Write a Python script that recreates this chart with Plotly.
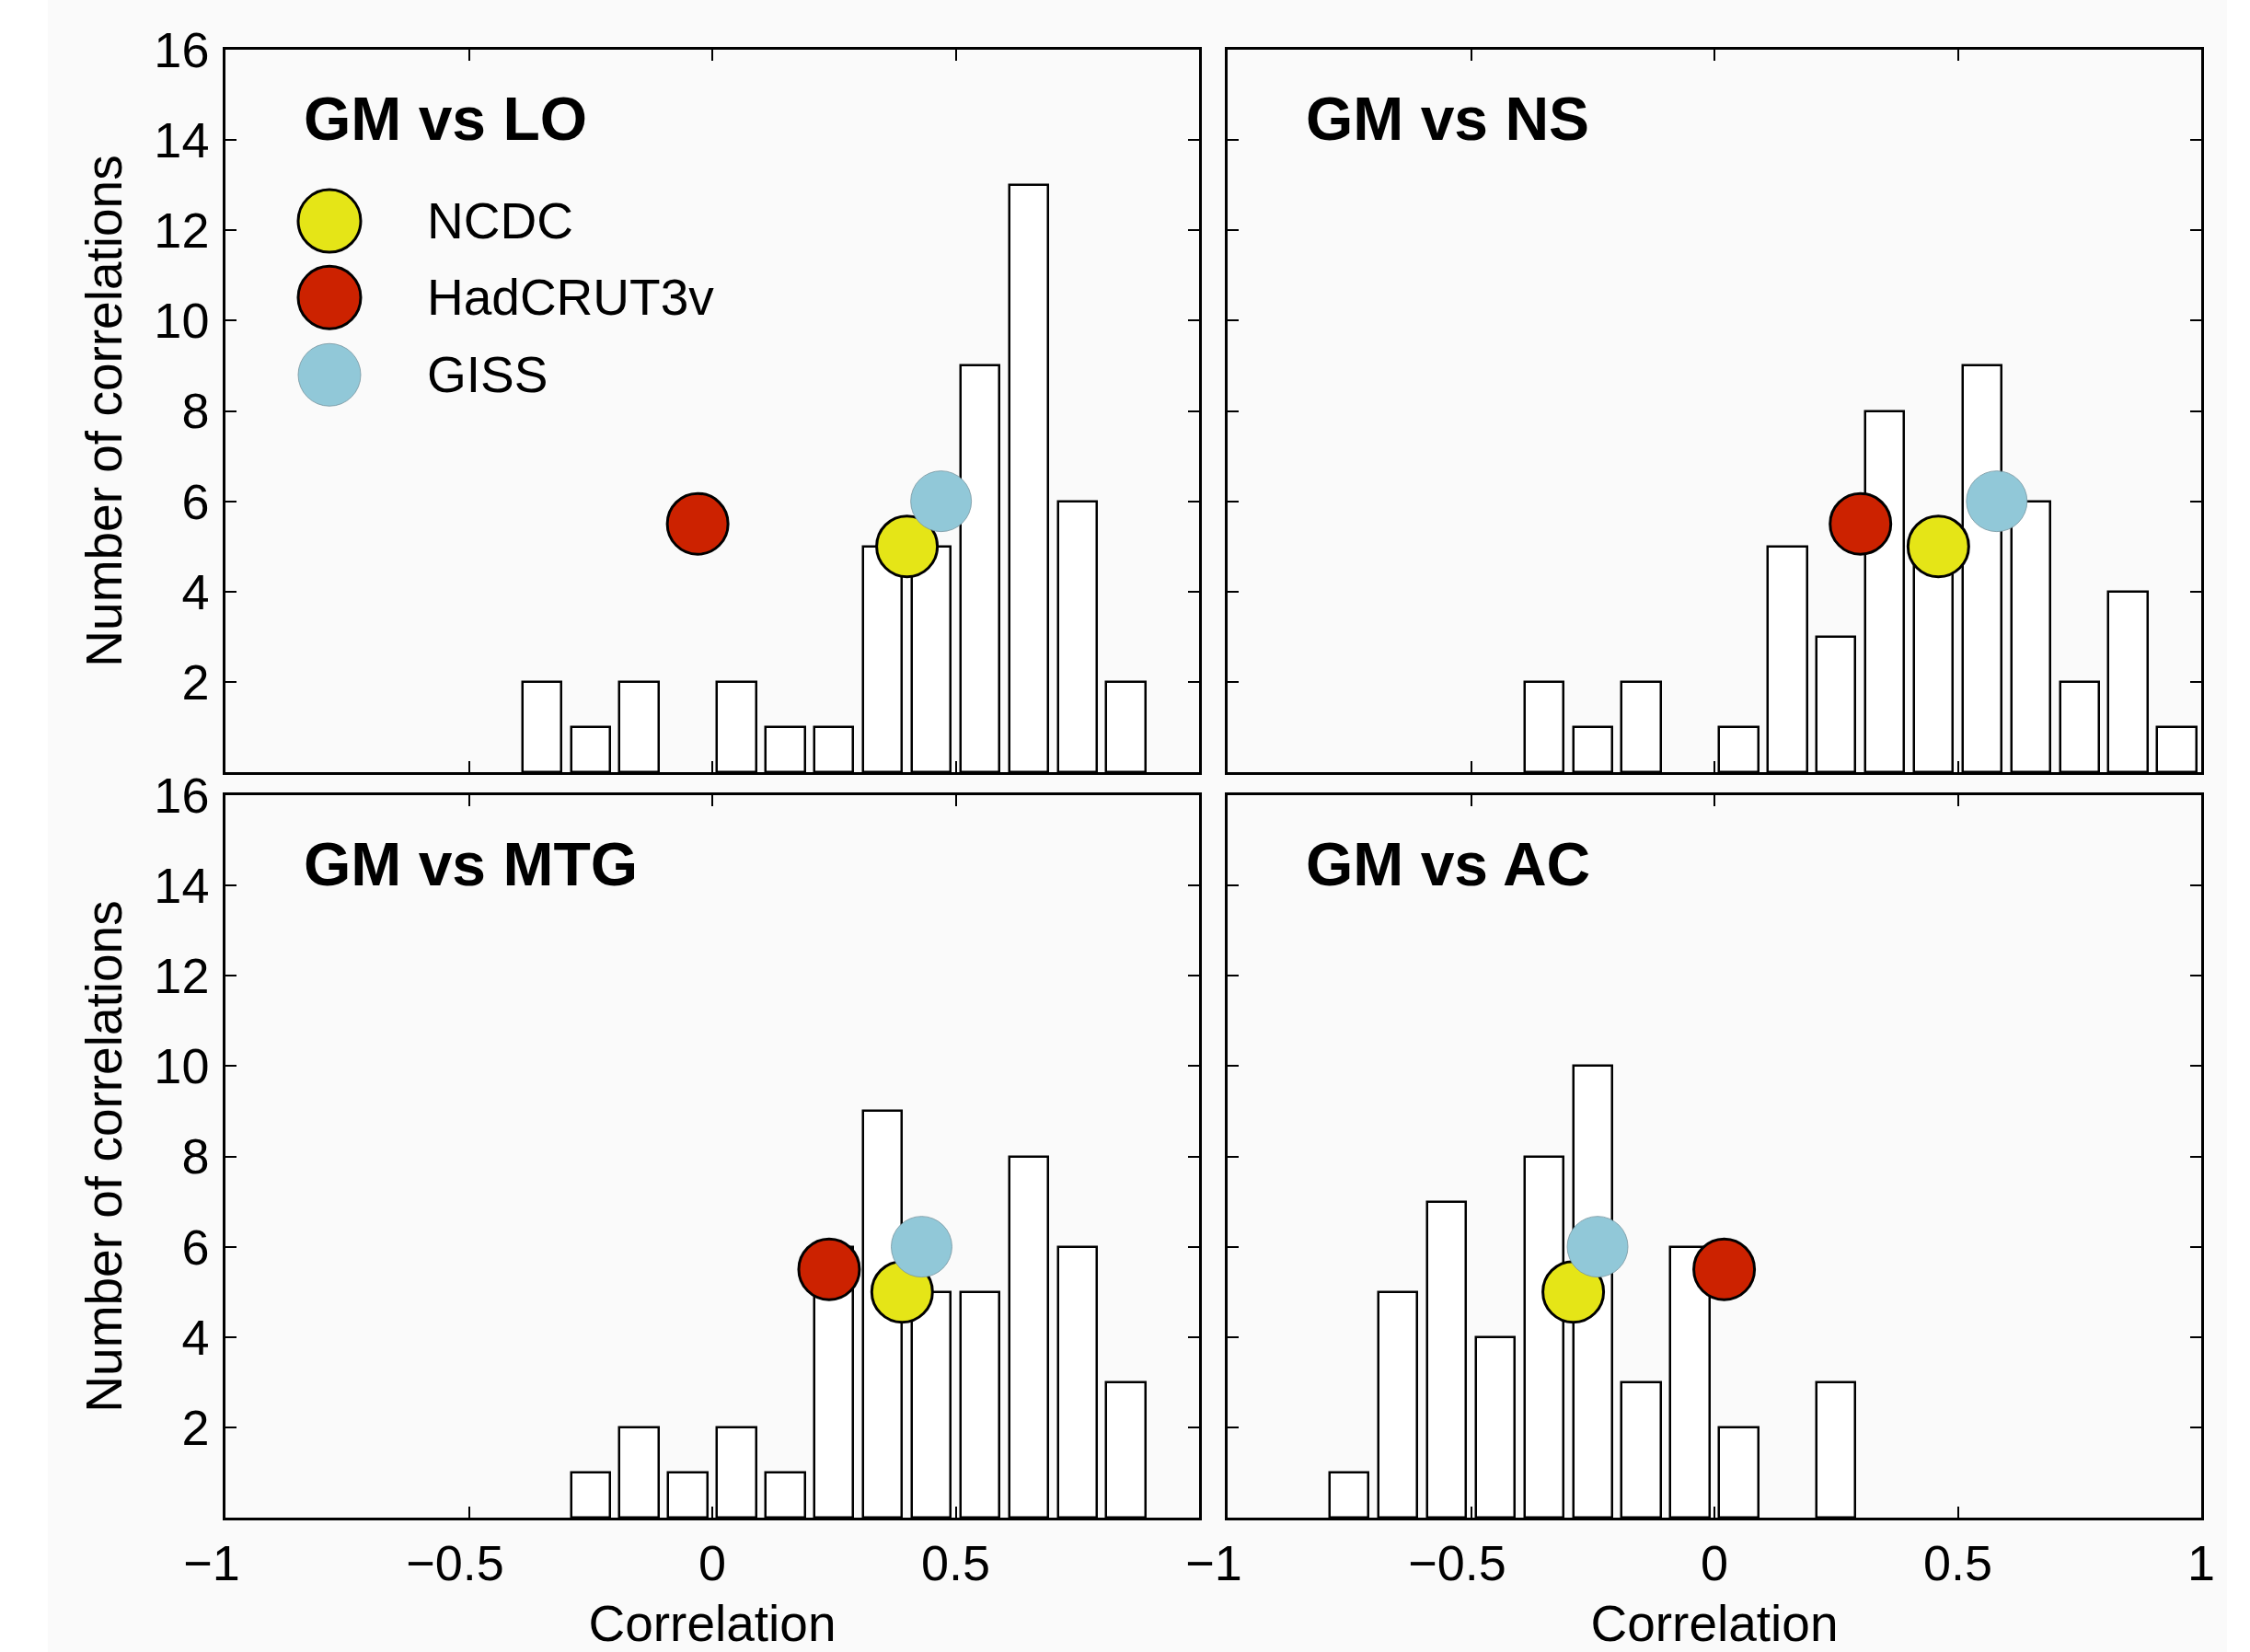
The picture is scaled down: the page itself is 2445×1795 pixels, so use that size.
import plotly.graph_objects as go

# ---- data ----
bin_centers = [-0.95, -0.85, -0.75, -0.65, -0.55, -0.45, -0.35, -0.25, -0.15, -0.05,
               0.05, 0.15, 0.25, 0.35, 0.45, 0.55, 0.65, 0.75, 0.85, 0.95]
counts_lo = [0, 0, 0, 0, 0, 0, 2, 1, 2, 0, 2, 1, 1, 5, 5, 9, 13, 6, 2, 0]
counts_ns = [0, 0, 0, 0, 0, 0, 2, 1, 2, 0, 1, 5, 3, 8, 5, 9, 6, 2, 4, 1]
counts_mtg = [0, 0, 0, 0, 0, 0, 0, 1, 2, 1, 2, 1, 6, 9, 5, 5, 8, 6, 3, 0]
counts_ac = [0, 0, 1, 5, 7, 4, 8, 10, 3, 6, 2, 0, 3, 0, 0, 0, 0, 0, 0, 0]

panel_titles = ["GM vs LO", "GM vs NS", "GM vs MTG", "GM vs AC"]
datasets = ["NCDC", "HadCRUT3v", "GISS"]
dataset_levels = [5, 5.5, 6]
obs_corr_lo = [0.40, -0.03, 0.47]
obs_corr_ns = [0.46, 0.30, 0.58]
obs_corr_mtg = [0.39, 0.24, 0.43]
obs_corr_ac = [-0.29, 0.02, -0.24]

x_tickvals = [-1, -0.5, 0, 0.5, 1]
x_ticktext = ["\u22121\u2007", "\u22120.5\u2007", "0", "0.5", "1"]
y_tickvals = [2, 4, 6, 8, 10, 12, 14, 16]
y_ticktext = ["2", "4", "6", "8", "10", "12", "14", "16"]

# ---- styles ----
colors = ["#E5E517", "#CC2200", "#91C8D8"]
outline = ["#000000", "#000000", "rgba(120,150,160,0.8)"]
outline_w = [3, 3, 1]
FONT = "Liberation Sans, Arial, Helvetica, sans-serif"
W, H = 2445, 1795

panels = [counts_lo, counts_ns, counts_mtg, counts_ac]
obs = [obs_corr_lo, obs_corr_ns, obs_corr_mtg, obs_corr_ac]

xdomains = [[245 / W, 1303 / W], [1334 / W, 2392 / W]]
ydomains = [[1 - 839 / H, 1 - 54 / H], [1 - 1649 / H, 1 - 864 / H]]

fig = go.Figure()

for i in range(4):
    ax = "" if i == 0 else str(i + 1)
    xs = [c for c, n in zip(bin_centers, panels[i]) if n > 0]
    ys = [n for n in panels[i] if n > 0]
    fig.add_trace(go.Bar(
        x=xs, y=ys, width=0.08,
        marker=dict(color="white", line=dict(color="black", width=2.5)),
        xaxis="x" + ax, yaxis="y" + ax, showlegend=False, hoverinfo="x+y"))
    for k in range(3):
        fig.add_trace(go.Scatter(
            x=[obs[i][k]], y=[dataset_levels[k]], mode="markers",
            marker=dict(size=66, color=colors[k],
                        line=dict(color=outline[k], width=outline_w[k])),
            xaxis="x" + ax, yaxis="y" + ax, name=datasets[k], showlegend=False))

layout = dict(
    width=W, height=H,
    margin=dict(l=0, r=0, t=0, b=0),
    paper_bgcolor="white",
    plot_bgcolor="rgba(0,0,0,0)",
    font=dict(family=FONT, size=54, color="black"),
    bargap=0,
    showlegend=False,
)

for i in range(4):
    ax = "" if i == 0 else str(i + 1)
    col = i % 2
    row = i // 2
    bottom = row == 1
    left = col == 0
    xa = dict(
        domain=xdomains[col], range=[-1, 1], anchor="y" + ax,
        showgrid=False, zeroline=False, showline=True, linecolor="black",
        linewidth=2.5, mirror="allticks", ticks="inside", ticklen=12, tickwidth=2,
        tickcolor="black", tickvals=x_tickvals,
        showticklabels=bottom, tickfont=dict(size=54),
        ticklabelstandoff=0,
        title=dict(text="Correlation" if bottom else "", font=dict(size=55), standoff=30),
        automargin=False, fixedrange=True,
    )
    if bottom:
        if left:
            xa["ticktext"] = x_ticktext[:4] + [""]
        else:
            xa["ticktext"] = x_ticktext
    layout["xaxis" + ax] = xa
    layout["yaxis" + ax] = dict(
        domain=ydomains[row],
        range=[0, 16], anchor="x" + ax,
        showgrid=False, zeroline=False, showline=True, linecolor="black",
        linewidth=2.5, mirror="allticks", ticks="inside", ticklen=12, tickwidth=2,
        tickcolor="black", tickvals=y_tickvals, ticktext=y_ticktext,
        showticklabels=left, tickfont=dict(size=54), ticklabelstandoff=4,
        title=dict(text="Number of correlations" if left else "", font=dict(size=55), standoff=18),
        automargin=False, fixedrange=True,
    )

# background panel (light grey page area)
shapes = [dict(type="rect", xref="paper", yref="paper", x0=52 / W, x1=2420 / W,
               y0=0, y1=1, fillcolor="#FAFAFA", line=dict(width=0), layer="below")]
annotations = []
for i in range(4):
    ax = "" if i == 0 else str(i + 1)
    annotations.append(dict(
        text="<b>" + panel_titles[i] + "</b>", xref="x" + ax + " domain", yref="y" + ax + " domain",
        x=0.078, y=0.905, xanchor="left", yanchor="middle", showarrow=False,
        font=dict(size=66, family=FONT, color="black")))

# legend drawn inside the first panel
leg_y = [0.763, 0.657, 0.550]
rx = 34 / 1058
ry = 34 / 785
for k in range(3):
    shapes.append(dict(type="circle", xref="x domain", yref="y domain",
                       x0=0.1068 - rx, x1=0.1068 + rx, y0=leg_y[k] - ry, y1=leg_y[k] + ry,
                       fillcolor=colors[k], line=dict(color=outline[k], width=outline_w[k])))
    annotations.append(dict(text=datasets[k], xref="x domain", yref="y domain",
                            x=0.205, y=leg_y[k], xanchor="left", yanchor="middle",
                            showarrow=False, font=dict(size=55, family=FONT, color="black")))

layout["shapes"] = shapes
layout["annotations"] = annotations
fig.update_layout(**layout)
fig.write_html("out.html")
